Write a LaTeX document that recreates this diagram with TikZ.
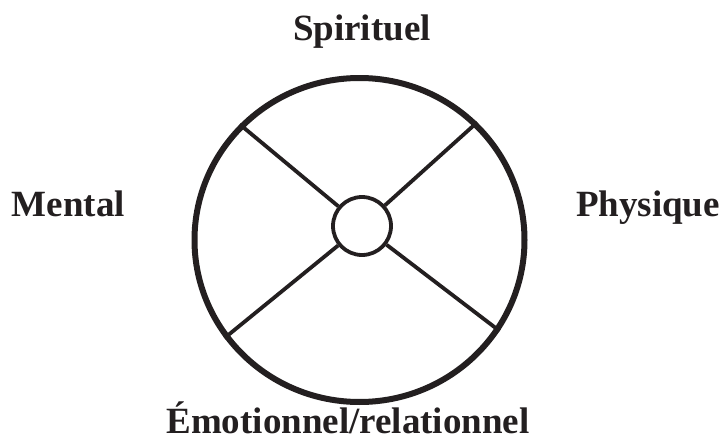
\documentclass[tikz,border=0pt]{standalone}
\usepackage{fontspec}
\setmainfont{Liberation Serif}
\usetikzlibrary{shapes.geometric}
\definecolor{ink}{HTML}{231F20}
\begin{document}
\begin{tikzpicture}[x=1pt,y=-1pt,
  label text/.style={font=\fontsize{37}{40}\selectfont\bfseries, text=ink, anchor=base, inner sep=0pt},
  outer ring/.style={draw=ink, ellipse, line width=6pt, minimum width=330pt, minimum height=324pt, inner sep=0pt},
  hub/.style={draw=ink, circle, line width=3.8pt, minimum size=58pt, inner sep=0pt},
  spoke/.style={draw=ink, line width=3.8pt}]
\useasboundingbox (0,0) rectangle (724,439);
\node[outer ring] (big) at (359.5,240) {};
\node[hub] (small) at (362,226) {};
\draw[spoke] (small) -- (big.136);
\draw[spoke] (small) -- (big.45.5);
\draw[spoke] (small) -- (big.216);
\draw[spoke] (small) -- (big.327.5);
\node[label text] (sp) at (362,40) {Spirituel};
\node[label text] (me) at (68.5,216) {Mental};
\node[label text] (ph) at (648,216) {Physique};
\node[label text] (em) at (348,433) {Émotionnel/relationnel};
\end{tikzpicture}
\end{document}
